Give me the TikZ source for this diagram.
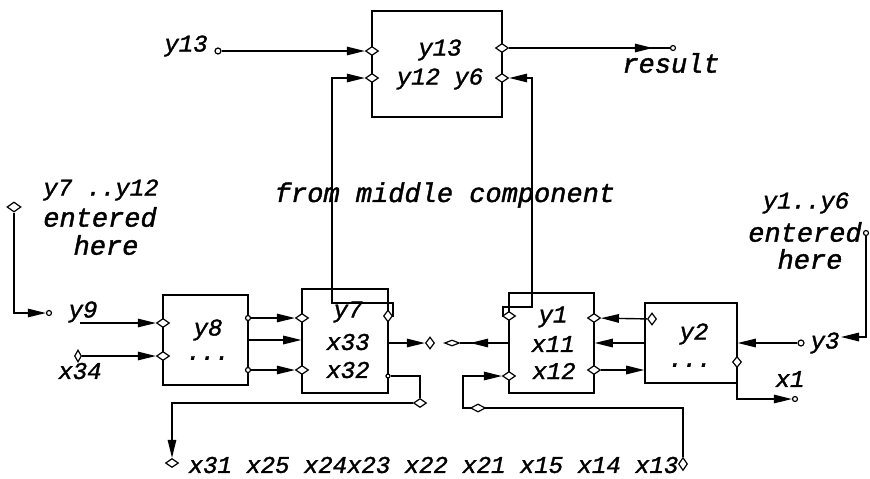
\documentclass[tikz,border=0pt]{standalone}
\usepackage{fontspec}
\newfontfamily\lblfont{Liberation Mono Italic}[FakeBold=1.5]
\usetikzlibrary{arrows.meta,shapes.geometric,decorations.markings}
\begin{document}
\begin{tikzpicture}[x=1pt,y=-1pt,
  line width=1.4pt,
  >={Triangle[length=18pt,width=8.5pt]},
  blk/.style={draw,line width=1.6pt,inner sep=0pt},
  port/.style={diamond,draw,fill=white,line width=1.2pt,inner sep=0pt,minimum width=13pt,minimum height=9pt},
  pin/.style={circle,draw,fill=white,line width=1.2pt,inner sep=0pt,minimum size=6pt},
  var/.style={font=\fontsize{24}{24}\selectfont\lblfont,inner sep=0pt},
  note/.style={font=\fontsize{27}{27}\selectfont\lblfont,inner sep=0pt},
  marr/.style={postaction={decorate},decoration={markings,mark=at position #1 with {\arrow{>}}}}
]
\useasboundingbox (0,0) rectangle (870,479);

% blocks
\node[blk,minimum width=130pt,minimum height=106pt] (top) at (437,64) {};
\node[blk,minimum width=85pt,minimum height=90pt] (y8b) at (205.5,340) {};
\node[blk,minimum width=86pt,minimum height=104pt] (y7b) at (345,341) {};
\node[blk,minimum width=85pt,minimum height=100pt] (y1b) at (551.5,343) {};
\node[blk,minimum width=92pt,minimum height=80pt] (y2b) at (691,343) {};

% block texts
\node[var] (t1) at (440,50) {y13};
\node[var] (t2) at (440,79) {y12 y6};
\node[var] (t3) at (208,330) {y8};
\node[var] (t4) at (208,358) {...};
\node[var] (t5) at (348,312) {y7};
\node[var] (t6) at (348,342) {x33};
\node[var] (t7) at (348,370) {x32};
\node[var] (t8) at (553,317) {y1};
\node[var] (t9) at (553,344) {x11};
\node[var] (t10) at (554,371) {x12};
\node[var] (t11) at (694,334) {y2};
\node[var] (t12) at (690,365) {...};

% ports and pins
\node[port] (tL1) at (372,51) {};
\node[port] (tL2) at (372,78) {};
\node[port] (tR1) at (502,48) {};
\node[port] (tR2) at (502,78) {};
\node[pin] (y13p) at (218,51) {};
\node[pin,minimum size=5pt] (resp) at (673,48) {};
\node[port] (aL1) at (163,323) {};
\node[port] (aL2) at (163,356) {};
\node[pin,minimum size=5pt] (aR1) at (248,318) {};
\node[pin,minimum size=5pt] (aR3) at (248,370) {};
\node[port] (bL1) at (302,318) {};
\node[port] (bL3) at (302,370) {};
\node[port,minimum width=9pt,minimum height=12pt] (bR1) at (388,316) {};
\node[pin,minimum size=4pt] (bR3) at (388,376) {};
\node[port] (cL1) at (509,316) {};
\node[port] (cL3) at (509,376) {};
\node[port] (cR1) at (594,318) {};
\node[port] (cR3) at (594,370) {};
\node[port,minimum width=9pt,minimum height=12pt] (dL1) at (652,319) {};
\node[port,minimum width=9pt,minimum height=11pt] (dR3) at (737,362) {};
\node[port,minimum width=14pt,minimum height=10pt] (ltd) at (14,207) {};
\node[pin,minimum size=5pt] (lp) at (49,313) {};
\coordinate (y9s) at (80,323);
\node[port,minimum width=7pt,minimum height=12pt] (x34d) at (78,356) {};
\node[port,minimum width=9pt,minimum height=12pt] (y7o) at (430,343) {};
\node[port,minimum width=15pt,minimum height=6pt] (y1o) at (452,343) {};
\node[port] (bd) at (420,403) {};
\node[port] (x31d) at (172,463) {};
\node[port,minimum width=9pt,minimum height=13pt] (x13d) at (683,464) {};
\node[pin] (y3p) at (801,343) {};
\node[pin,minimum size=5pt] (x1p) at (795,399) {};
\node[pin,minimum size=5pt] (rtp) at (866,233) {};
\coordinate (y3in) at (841,337);

% labels
\node[var] (ly13) at (186,46) {y13};
\node[note] (lres) at (671,63) {result};
\node[var] (ll1) at (101,190) {y7 ..y12};
\node[note] (ll2) at (100,217) {entered};
\node[note] (ll3) at (106,245) {here};
\node[var] (lr1) at (806,203) {y1..y6};
\node[note] (lr2) at (805,232) {entered};
\node[note] (lr3) at (810,259) {here};
\node[note] (lmid) at (445,195) {from middle component};
\node[var,anchor=west] (lbot) at (188,465) {x31 x25 x24x23 x22 x21 x15 x14 x13};
\node[var] (ly9) at (83,312) {y9};
\node[var] (lx34) at (80,371) {x34};
\node[var] (lx1) at (790,379) {x1};
\node[var] (ly3) at (825,343) {y3};

% connectors
\draw[->] (y13p) -- (tL1);
\draw[->] (bR1.east) -| (393,303) -| (332,78) -- (tL2);
\draw[->] (cL1.west) -| (503,307) -| (532,78) -- (tR2);
\draw[marr=-17pt] (tR1) -- (resp);
\draw[->] (ltd) |- (lp);
\draw[->] (y9s) -- (aL1);
\draw[->] (x34d) -- (aL2);
\draw[->] (aR1) -- (bL1);
\draw[->] (y8b.east) -- (y8b.east -| y7b.west);
\draw[->] (aR3) -- (bL3);
\draw[->] (y7b.east |- y7o) -- (y7o);
\draw (bR3) -| (bd);
\draw[->] (bd) -| (x31d);
\draw[marr=-10pt] (y1b.west |- y1o) -- (y1o);
\draw[->] (x13d.north) |- (463,408) |- (cL3);
\node[port,minimum width=15pt,minimum height=8pt] (md) at (478,408) {};
\draw[->] (dL1) -- (cR1);
\draw[->] (y2b.west) -- (y2b.west -| y1b.east);
\draw[->] (cR3) -- (y2b.west |- cR3);
\draw[->] (y3p) -- (y3p -| y2b.east);
\draw[->] (rtp) |- (y3in);
\draw[->] (dR3) |- (x1p);
\end{tikzpicture}
\end{document}
